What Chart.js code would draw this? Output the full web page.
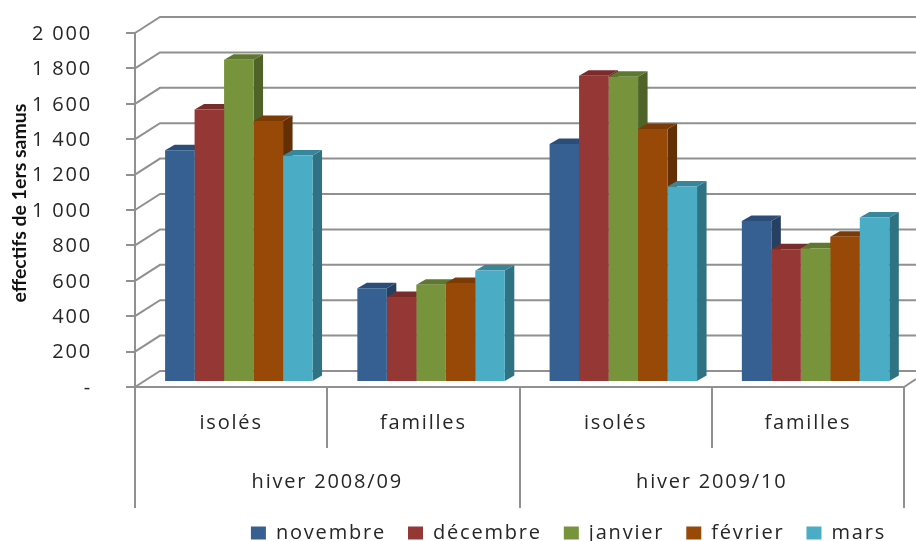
<!DOCTYPE html>
<html>
<head>
<meta charset="utf-8">
<title>effectifs de 1ers samus</title>
<script src="https://cdn.jsdelivr.net/npm/chart.js@4/dist/chart.umd.min.js"></script>
<style>
    html, body { margin: 0; padding: 0; background: #fff; overflow: hidden; }
    canvas { display: block; }
</style>
</head>
<body>
<canvas id="samuChart" width="916" height="541"></canvas>
<script>
const categories = ["isolés", "familles", "isolés", "familles"];
const winters = ["hiver 2008/09", "hiver 2009/10"];
const yTickLabels = ["-", "200", "400", "600", "800", "1 000", "1 200", "1 400", "1 600", "1 800", "2 000"];

const novembre = [1310, 530, 1345, 910];
const decembre = [1540, 480, 1730, 750];
const janvier = [1820, 550, 1725, 755];
const fevrier = [1475, 560, 1430, 820];
const mars = [1280, 630, 1105, 930];

const AXIS_GREY = "#909090";
const TEXT = "#262626";
const FONT = "'Open Sans', sans-serif";

// front, top and side colours of each series
const colours = [
    ["#376092", "#2b4d78", "#254061"],
    ["#953735", "#7a2c2b", "#632423"],
    ["#77933c", "#5f7830", "#4f6228"],
    ["#984807", "#7c3a05", "#632f04"],
    ["#4bacc6", "#37869c", "#2f7284"]
];

function setSpacing(chart) {
    chart.ctx.letterSpacing = "1.8px";
}

// back walls, side wall and bar depth, none of which Chart.js has
const depthPlugin = {
    id: "depth",
    beforeUpdate: setSpacing,
    beforeDraw: setSpacing,
    afterLayout(chart) {
        chart.legend.left += 4;
        chart.legend.right += 4;
        chart.legend.top -= 7;
        chart.legend.bottom -= 7;

        // the axis title is set tighter and slightly above centre
        const yScale = chart.scales.y;
        const drawTitle = yScale.drawTitle;
        yScale.drawTitle = function () {
            const ctx = chart.ctx;
            ctx.save();
            ctx.letterSpacing = "0px";
            ctx.translate(0, -7);
            drawTitle.call(yScale);
            ctx.restore();
        };
    },
    beforeDatasetsDraw(chart) {
        const ctx = chart.ctx;
        const area = chart.chartArea;
        const yScale = chart.scales.y;

        ctx.save();
        ctx.strokeStyle = AXIS_GREY;
        ctx.lineWidth = 2;
        ctx.beginPath();
        yScale.ticks.forEach(t => {
            const y = yScale.getPixelForValue(t.value);
            ctx.moveTo(area.left, y);
            ctx.lineTo(area.left + 25, y - 16);
            ctx.lineTo(chart.width, y - 16);
        });
        ctx.moveTo(area.right, area.bottom);
        ctx.lineTo(area.right + 12, area.bottom - 8);
        ctx.stroke();
        ctx.restore();

        // bars stand a little behind the front edge of the floor
        ctx.save();
        ctx.translate(7.7, -5);
        const dx = 9.5, dy = 5.5;
        categories.forEach((c, j) => {
            chart.data.datasets.forEach((ds, i) => {
                const bar = chart.getDatasetMeta(i).data[j];
                const l = bar.x - bar.width / 2;
                const r = bar.x + bar.width / 2;

                ctx.fillStyle = colours[i][2];
                ctx.beginPath();
                ctx.moveTo(r, bar.y);
                ctx.lineTo(r + dx, bar.y - dy);
                ctx.lineTo(r + dx, bar.base - dy);
                ctx.lineTo(r, bar.base);
                ctx.fill();

                ctx.fillStyle = colours[i][1];
                ctx.beginPath();
                ctx.moveTo(l, bar.y);
                ctx.lineTo(l + dx, bar.y - dy);
                ctx.lineTo(r + dx, bar.y - dy);
                ctx.lineTo(r, bar.y);
                ctx.fill();
            });
        });
    },
    afterDatasetsDraw(chart) {
        chart.ctx.restore();
    }
};

function makeDataset(label, values, i) {
    return {
        label: label,
        data: values,
        backgroundColor: colours[i][0],
        borderWidth: 0,
        clip: false
    };
}

new Chart(document.getElementById("samuChart"), {
    type: "bar",
    data: {
        labels: categories,
        datasets: [
            makeDataset("novembre", novembre, 0),
            makeDataset("décembre", decembre, 1),
            makeDataset("janvier", janvier, 2),
            makeDataset("février", fevrier, 3),
            makeDataset("mars", mars, 4)
        ]
    },
    plugins: [depthPlugin],
    options: {
        responsive: false,
        animation: false,
        layout: { padding: { top: 33, right: 12, left: 0, bottom: -19 } },
        datasets: { bar: { categoryPercentage: 0.767, barPercentage: 1 } },
        scales: {
            x: {
                position: "bottom",
                weight: 0,
                grid: {
                    drawOnChartArea: false,
                    offset: true,
                    color: AXIS_GREY,
                    lineWidth: 2,
                    tickLength: 61
                },
                border: { color: AXIS_GREY, width: 2 },
                ticks: {
                    color: TEXT,
                    font: { family: FONT, size: 20 },
                    padding: -37,
                    maxRotation: 0,
                    autoSkip: false
                },
                afterFit(scale) { scale.height = 61; }
            },
            x2: {
                type: "category",
                position: "bottom",
                weight: 1,
                offset: true,
                labels: winters,
                grid: {
                    drawOnChartArea: false,
                    offset: true,
                    color: AXIS_GREY,
                    lineWidth: 2,
                    tickLength: 60
                },
                border: { display: false },
                ticks: {
                    color: TEXT,
                    font: { family: FONT, size: 20 },
                    padding: -38,
                    maxRotation: 0,
                    autoSkip: false
                },
                afterFit(scale) { scale.height = 60; }
            },
            y: {
                min: 0,
                max: 2000,
                position: "left",
                grid: {
                    drawOnChartArea: false,
                    color: AXIS_GREY,
                    lineWidth: 2,
                    tickLength: 9
                },
                border: { color: AXIS_GREY, width: 2 },
                ticks: {
                    stepSize: 200,
                    color: TEXT,
                    font: { family: FONT, size: 20 },
                    padding: 34,
                    labelOffset: 1,
                    callback: (v, i) => yTickLabels[i]
                },
                title: {
                    display: true,
                    text: "effectifs de 1ers samus",
                    color: "#111",
                    font: { family: "Lato, sans-serif", size: 19.5, weight: "bold" },
                    padding: { top: 8, bottom: 0 }
                },
                afterFit(scale) {
                    scale.width = 135;
                    scale.paddingTop = 0;
                    scale.paddingBottom = 0;
                }
            }
        },
        plugins: {
            legend: {
                position: "bottom",
                align: "end",
                labels: {
                    boxWidth: 15,
                    boxHeight: 13,
                    padding: 22,
                    color: TEXT,
                    font: { family: FONT, size: 20 }
                }
            },
            tooltip: { enabled: false }
        }
    }
});
</script>
</body>
</html>
